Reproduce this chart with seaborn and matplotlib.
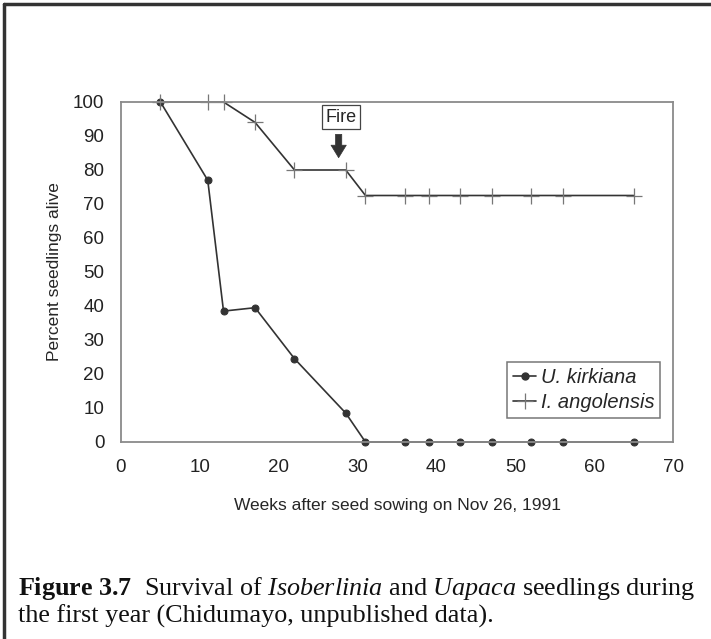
import matplotlib
matplotlib.use("Agg")
import matplotlib.pyplot as plt
import seaborn as sns
import pandas as pd
from matplotlib.lines import Line2D

# data
weeks = [5, 11, 13, 17, 22, 28.5, 31, 36, 39, 43, 47, 52, 56, 65]
u_kirkiana = [100, 77, 38.5, 39.5, 24.5, 8.5, 0, 0, 0, 0, 0, 0, 0, 0]
i_angolensis = [100, 100, 100, 94, 80, 80, 72.5, 72.5, 72.5, 72.5, 72.5, 72.5, 72.5, 72.5]
x_ticks = [0, 10, 20, 30, 40, 50, 60, 70]
y_ticks = [0, 10, 20, 30, 40, 50, 60, 70, 80, 90, 100]
fire_week = 27.6

sns.set_style("white")
plt.rcParams["font.family"] = ["Liberation Sans", "DejaVu Sans"]
plt.rcParams["mathtext.fontset"] = "custom"
plt.rcParams["mathtext.rm"] = "Liberation Serif"
plt.rcParams["mathtext.it"] = "Liberation Serif:italic"
plt.rcParams["mathtext.bf"] = "Liberation Serif:bold"

fig = plt.figure(figsize=(7.11, 6.39), dpi=100)
ax = fig.add_axes([121 / 711, 1 - 442 / 639, 552 / 711, 340 / 639])

df_u = pd.DataFrame({"week": weeks, "pct": u_kirkiana})
df_i = pd.DataFrame({"week": weeks, "pct": i_angolensis})

line_col = "#333333"
sns.lineplot(data=df_u, x="week", y="pct", ax=ax, color=line_col, lw=1.2, clip_on=False,
             marker="o", markersize=5, markeredgecolor=line_col, markerfacecolor=line_col)
sns.lineplot(data=df_i, x="week", y="pct", ax=ax, color=line_col, lw=1.2, clip_on=False,
             marker="+", markersize=11, markeredgewidth=0.9, markeredgecolor="#777777")

ax.set_xlim(0, 70)
ax.set_ylim(0, 100)
ax.set_xticks(x_ticks)
ax.set_yticks(y_ticks)
ax.tick_params(axis="both", length=0, labelsize=13.5, colors="#222222")
ax.tick_params(axis="y", pad=12)
ax.tick_params(axis="x", pad=12)
for s in ax.spines.values():
    s.set_visible(True)
    s.set_color("#8a8a8a")
    s.set_linewidth(1.3)

ax.set_xlabel("Weeks after seed sowing on Nov 26, 1991", fontsize=12.5)
ax.set_ylabel("Percent seedlings alive", fontsize=12.5)
ax.xaxis.set_label_coords(0.5, -0.165)
ax.yaxis.set_label_coords(-0.107, 0.5)

# Fire annotation
ax.text(fire_week + 0.3, 95.5, "Fire", fontsize=13, ha="center", va="center",
        bbox=dict(boxstyle="square,pad=0.2", fc="white", ec="#444444", lw=0.9))
ax.annotate("", xy=(fire_week, 82.8), xytext=(fire_week, 91.3),
            arrowprops=dict(arrowstyle="simple,head_width=1.1,head_length=0.9,tail_width=0.45",
                            fc="#333333", ec="#333333", lw=0.5))

handles = [
    Line2D([], [], color=line_col, lw=1.2, marker="o", markersize=5),
    Line2D([], [], color=line_col, lw=1.2, marker="+", markersize=11,
           markeredgewidth=0.9, markeredgecolor="#777777"),
]
leg = ax.legend(handles, ["U. kirkiana", "I. angolensis"], loc="lower right",
                bbox_to_anchor=(0.977, 0.07), fancybox=False, framealpha=1,
                edgecolor="#777777", handlelength=1.1, handletextpad=0.25,
                borderpad=0.3, labelspacing=0.3, borderaxespad=0,
                prop={"style": "italic", "size": 14.5})
leg.get_frame().set_linewidth(1.1)

# outer frame (left and top)
fig.add_artist(Line2D([4 / 711, 4 / 711], [0, 1 - 4 / 639], color="#333333", lw=2.5))
fig.add_artist(Line2D([4 / 711, 1], [1 - 4 / 639, 1 - 4 / 639], color="#333333", lw=2.5))

cap = dict(fontsize=18.8, family="Liberation Serif", color="#111111", ha="left", va="center")
fig.text(18 / 711, 1 - 588 / 639,
         r"$\mathbf{Figure\ 3.7}$  Survival of $\mathit{Isoberlinia}$ and $\mathit{Uapaca}$ seedlings during",
         **cap)
fig.text(18 / 711, 1 - 616 / 639, "the first year (Chidumayo, unpublished data).", **cap)

fig.savefig("out.png", dpi=100)
